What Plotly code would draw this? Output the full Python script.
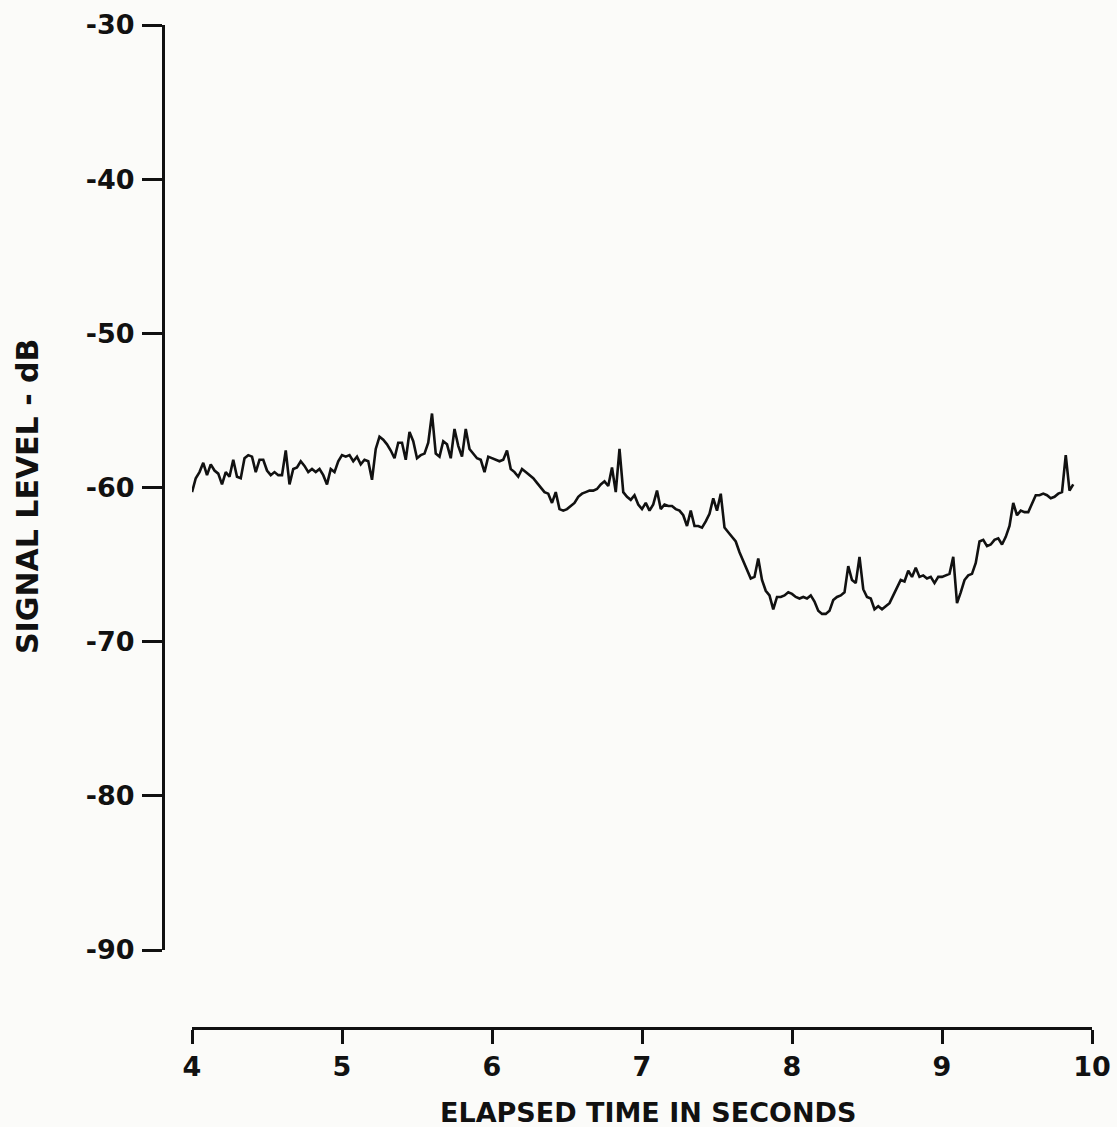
import plotly.graph_objects as go

# Received signal level, one reading every 25 ms starting at t = 4.0 s
SAMPLE_START_S = 4.0
SAMPLE_STEP_S = 0.025
level_db = [
    -60.3, -59.4, -59.0, -58.4, -59.2, -58.5, -58.9, -59.1,
    -59.8, -59.0, -59.3, -58.2, -59.3, -59.4, -58.1, -57.9,
    -58.0, -59.0, -58.2, -58.2, -58.9, -59.2, -59.0, -59.2,
    -59.2, -57.6, -59.8, -58.8, -58.7, -58.3, -58.6, -59.0,
    -58.8, -59.0, -58.8, -59.2, -59.8, -58.8, -59.0, -58.3,
    -57.9, -58.0, -57.9, -58.3, -58.0, -58.5, -58.2, -58.3,
    -59.5, -57.5, -56.7, -56.9, -57.2, -57.6, -58.1, -57.1,
    -57.1, -58.2, -56.4, -57.0, -58.1, -57.9, -57.8, -57.1,
    -55.2, -57.8, -58.0, -57.0, -57.2, -58.1, -56.2, -57.3,
    -58.0, -56.2, -57.5, -57.8, -58.1, -58.2, -59.0, -58.0,
    -58.1, -58.2, -58.3, -58.2, -57.6, -58.8, -59.0, -59.3,
    -58.8, -59.0, -59.2, -59.4, -59.7, -60.0, -60.3, -60.4,
    -61.0, -60.3, -61.4, -61.5, -61.4, -61.2, -61.0, -60.6,
    -60.4, -60.3, -60.2, -60.2, -60.1, -59.8, -59.6, -59.9,
    -58.7, -60.3, -57.5, -60.3, -60.6, -60.8, -60.5, -61.1,
    -61.4, -61.0, -61.5, -61.1, -60.2, -61.4, -61.1, -61.2,
    -61.2, -61.4, -61.5, -61.8, -62.5, -61.5, -62.5, -62.5,
    -62.6, -62.2, -61.7, -60.7, -61.5, -60.4, -62.6, -62.9,
    -63.2, -63.5, -64.2, -64.8, -65.3, -65.9, -65.8, -64.6,
    -66.0, -66.7, -67.0, -67.9, -67.1, -67.1, -67.0, -66.8,
    -66.9, -67.1, -67.2, -67.1, -67.2, -67.0, -67.4, -68.0,
    -68.2, -68.2, -68.0, -67.3, -67.1, -67.0, -66.8, -65.1,
    -66.0, -66.2, -64.5, -66.6, -67.1, -67.2, -67.9, -67.7,
    -67.9, -67.7, -67.5, -67.0, -66.5, -66.0, -66.1, -65.4,
    -65.8, -65.2, -65.8, -65.7, -65.9, -65.8, -66.2, -65.8,
    -65.8, -65.7, -65.6, -64.5, -67.5, -66.8, -66.0, -65.7,
    -65.6, -64.9, -63.5, -63.4, -63.8, -63.7, -63.4, -63.3,
    -63.7, -63.2, -62.5, -61.0, -61.8, -61.5, -61.6, -61.6,
    -61.0, -60.5, -60.5, -60.4, -60.5, -60.7, -60.6, -60.4,
    -60.3, -57.9, -60.2, -59.8,
]
time_s = [SAMPLE_START_S + SAMPLE_STEP_S * i for i in range(len(level_db))]

x_ticks = [4, 5, 6, 7, 8, 9, 10]
x_tick_labels = ["4", "5", "6", "7", "8", "9", "10"]
y_ticks = [-30, -40, -50, -60, -70, -80, -90]
y_tick_labels = ["-30", "-40", "-50", "-60", "-70", "-80", "-90"]

W, H = 1117, 1127
BG = "#fbfbf9"
INK = "#111111"
FONT = "DejaVu Sans"
TICK_FONT = dict(size=27, family=FONT, color=INK, weight="bold")


def px_x(p):
    return p / W


def px_y(p):
    return 1 - p / H


fig = go.Figure()
fig.add_trace(go.Scatter(
    x=time_s, y=level_db, mode="lines",
    line=dict(color=INK, width=2.6),
    hoverinfo="skip", showlegend=False,
))

fig.update_layout(
    width=W, height=H,
    margin=dict(l=0, r=0, t=0, b=0, pad=0),
    paper_bgcolor=BG, plot_bgcolor=BG,
    font=dict(family=FONT, color=INK),
    showlegend=False,
    xaxis=dict(
        domain=[px_x(192), px_x(1092)],
        range=[4, 10],
        anchor="free", position=px_y(1028),
        showline=True, linecolor=INK, linewidth=3,
        ticks="outside", ticklen=14, tickwidth=3, tickcolor=INK,
        tickvals=x_ticks, ticktext=x_tick_labels,
        tickfont=TICK_FONT,
        ticklabelstandoff=0,
        showgrid=False, zeroline=False, automargin=False,
    ),
    yaxis=dict(
        domain=[px_y(950), px_y(25)],
        range=[-90, -30],
        anchor="free", position=px_x(163),
        showline=True, linecolor=INK, linewidth=3,
        ticks="outside", ticklen=20, tickwidth=3, tickcolor=INK,
        tickvals=y_ticks, ticktext=y_tick_labels,
        tickfont=TICK_FONT,
        ticklabelstandoff=2,
        showgrid=False, zeroline=False, automargin=False,
    ),
    annotations=[
        dict(text="SIGNAL LEVEL - dB", textangle=-90,
             xref="paper", yref="paper", x=px_x(27), y=px_y(497),
             xanchor="center", yanchor="middle", showarrow=False,
             font=dict(size=30, family=FONT, color=INK, weight="bold")),
        dict(text="ELAPSED TIME IN SECONDS",
             xref="paper", yref="paper", x=px_x(648), y=px_y(1112),
             xanchor="center", yanchor="middle", showarrow=False,
             font=dict(size=27, family=FONT, color=INK, weight="bold")),
    ],
)

fig.write_html("out.html")
